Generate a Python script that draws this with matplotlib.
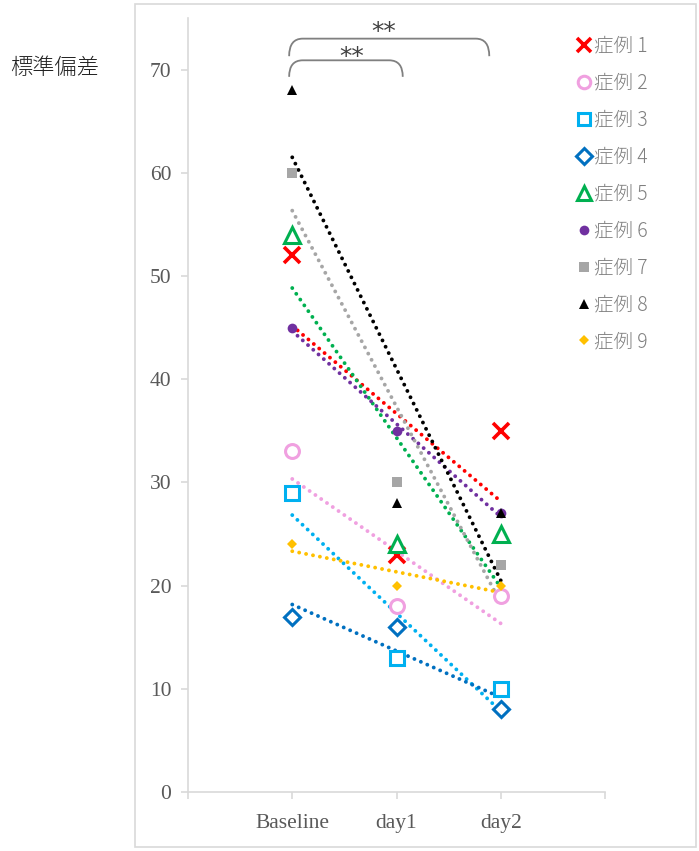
import matplotlib
matplotlib.use("Agg")
import matplotlib.pyplot as plt
from matplotlib.path import Path
from matplotlib.patches import PathPatch, Rectangle
from matplotlib.lines import Line2D
import numpy as np

plt.rcParams['font.family'] = ['Noto Sans CJK JP', 'DejaVu Sans']

days = ["Baseline", "day1", "day2"]
cases = ["症例 1", "症例 2", "症例 3", "症例 4", "症例 5", "症例 6", "症例 7", "症例 8", "症例 9"]
case1 = [52, 23, 35]
case2 = [33, 18, 19]
case3 = [29, 13, 10]
case4 = [17, 16, 8]
case5 = [54, 24, 25]
case6 = [45, 35, 27]
case7 = [60, 30, 22]
case8 = [68, 28, 27]
case9 = [24, 20, 20]
series = [case1, case2, case3, case4, case5, case6, case7, case8, case9]

# marker, colour, size, filled
styles = [
    ("x", "#ff0000", 11, True),
    ("o", "#f0a0e0", 10, False),
    ("s", "#00b0f0", 10, False),
    ("D", "#0070c0", 8.5, False),
    ("^", "#00b050", 11, False),
    ("o", "#7030a0", 7, True),
    ("s", "#a6a6a6", 7, True),
    ("^", "#000000", 7, True),
    ("D", "#ffc000", 5, True),
]

fig = plt.figure(figsize=(6.99, 8.51), dpi=100)
fig.patches.append(Rectangle((135 / 699, 4 / 851), 561 / 699, 843 / 851,
                             transform=fig.transFigure, fill=False,
                             edgecolor="#d9d9d9", lw=1.2))
ax = fig.add_axes([188 / 699, 1 - 792 / 851, 417 / 699, 774 / 851])

x = np.arange(len(days))
for vals, (m, c, s, filled) in zip(series, styles):
    # linear trend line over the three points
    k, b = np.polyfit(x, vals, 1)
    ax.plot(x, k * x + b, color=c, lw=2.8, linestyle=(0, (0.01, 1.8)),
            dash_capstyle="round", zorder=2)
    if m == "x":
        ax.plot(x, vals, ls="none", marker=m, ms=s, mew=2.6, color=c, zorder=3)
    elif filled:
        ax.plot(x, vals, ls="none", marker=m, ms=s, mew=0, color=c, zorder=3)
    else:
        ax.plot(x, vals, ls="none", marker=m, ms=s, mew=2.2, mfc="white",
                mec=c, zorder=3)

ax.set_xlim(-1, 3)
ax.set_ylim(0, 75)
ax.set_xticks([-1, 0, 1, 2, 3])
ax.set_xticklabels(["", *days, ""])
ax.set_yticks(range(0, 71, 10))
for sp in ["top", "right"]:
    ax.spines[sp].set_visible(False)
for sp in ["left", "bottom"]:
    ax.spines[sp].set_color("#d9d9d9")
    ax.spines[sp].set_linewidth(1.2)
ax.tick_params(colors="#d9d9d9", length=5, width=1.2, labelcolor="#595959",
               labelsize=15.5)
ax.tick_params(axis="x", pad=11)
ax.tick_params(axis="y", pad=7)
for lab in ax.get_xticklabels() + ax.get_yticklabels():
    lab.set_fontfamily("Liberation Serif")

# significance brackets
def bracket(x0, x1, y_end, y_top, rx=0.13):
    verts = [(x0, y_end), (x0, y_top), (x0 + rx, y_top),
             (x1 - rx, y_top), (x1, y_top), (x1, y_end)]
    codes = [Path.MOVETO, Path.CURVE3, Path.CURVE3,
             Path.LINETO, Path.CURVE3, Path.CURVE3]
    ax.add_patch(PathPatch(Path(verts, codes), fill=False, edgecolor="#808080",
                           lw=1.3, clip_on=False))

bracket(-0.03, 1.89, 71.3, 73.0)
bracket(-0.03, 1.06, 69.3, 70.9)
ax.text(0.88, 73.6, "**", ha="center", va="center", fontsize=18,
        color="#404040", fontfamily="DejaVu Sans", clip_on=False)
ax.text(0.57, 71.2, "**", ha="center", va="center", fontsize=18,
        color="#404040", fontfamily="DejaVu Sans", clip_on=False)

fig.text(10 / 699, 1 - 68 / 851, "標準偏差", ha="left", va="center",
         fontsize=16, color="#222222", fontweight="light")

handles = []
for name, (m, c, s, filled) in zip(cases, styles):
    if m == "x":
        h = Line2D([], [], ls="none", marker=m, ms=10, mew=2.6, color=c)
    elif filled:
        h = Line2D([], [], ls="none", marker=m, ms=s, mew=0, color=c)
    else:
        h = Line2D([], [], ls="none", marker=m, ms=s * 0.9, mew=2.2,
                   mfc="white", mec=c)
    handles.append(h)
leg = fig.legend(handles, cases, loc="upper left",
                 bbox_to_anchor=(566 / 699, 1 - 26 / 851), frameon=False,
                 handlelength=0.8, handletextpad=0.15, labelspacing=0.82,
                 borderpad=0, prop={"family": ["Noto Sans CJK JP"], "size": 14,
                                    "weight": "light"})
for t in leg.get_texts():
    t.set_color("#7f7f7f")

fig.savefig("out.png", dpi=100)
